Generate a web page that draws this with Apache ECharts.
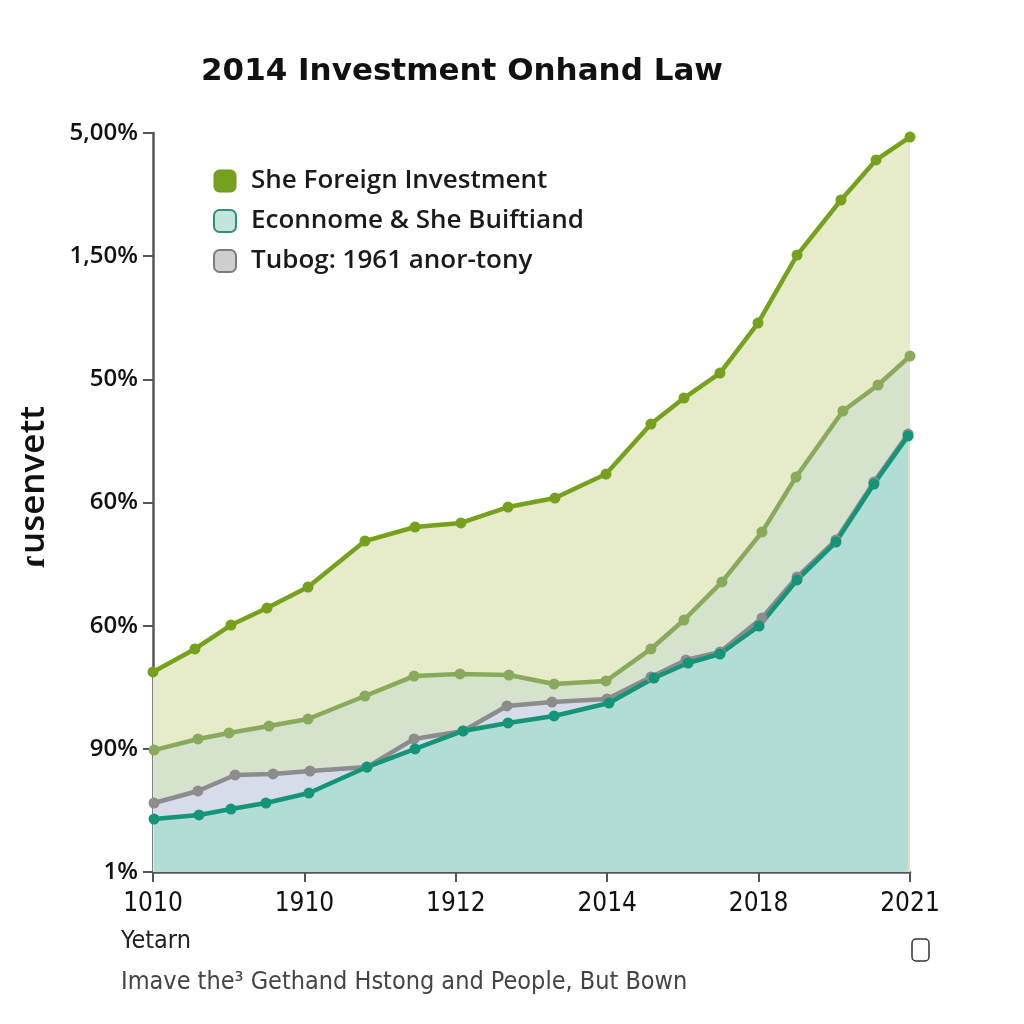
<!DOCTYPE html>
<html><head><meta charset="utf-8">
<script src="https://cdn.jsdelivr.net/npm/echarts@6/dist/echarts.min.js"></script>
<style>html,body{margin:0;padding:0;background:#fff}#c{width:1024px;height:1024px}</style>
</head><body><div id="c"></div>
<script>
// x in axis units (0..5 map to tick labels), y in axis units (0..6 map to tick labels)
const xTickLabels = ['1010','1910','1912','2014','2018','2021'];
const yTickLabels = ['1%','90%','60%','60%','50%','1,50%','5,00%'];

const foreignX = [0,0.277,0.515,0.753,1.024,1.400,1.731,2.034,2.345,2.655,2.992,3.289,3.507,3.745,3.996,4.254,4.544,4.776,5.0];
const foreignY = [1.624,1.811,2.005,2.143,2.314,2.687,2.801,2.834,2.963,3.036,3.231,3.637,3.848,4.051,4.457,5.009,5.456,5.781,5.967];

const oliveX = [0.007,0.297,0.502,0.766,1.024,1.400,1.724,2.028,2.351,2.649,2.992,3.289,3.507,3.758,4.022,4.247,4.557,4.789,5.0];
const oliveY = [0.990,1.080,1.129,1.185,1.242,1.429,1.591,1.608,1.599,1.526,1.551,1.811,2.046,2.355,2.760,3.207,3.743,3.954,4.189];

const greyX = [0.007,0.297,0.542,0.793,1.037,1.413,1.724,2.048,2.338,2.635,2.999,3.289,3.520,3.745,4.022,4.254,4.511,4.762,4.987];
const greyY = [0.560,0.658,0.788,0.796,0.820,0.852,1.080,1.145,1.348,1.380,1.405,1.583,1.721,1.786,2.062,2.395,2.695,3.166,3.556];

const tealX = [0.007,0.304,0.515,0.746,1.030,1.413,1.731,2.048,2.345,2.649,3.012,3.309,3.534,3.745,4.003,4.254,4.511,4.762,4.987];
const tealY = [0.430,0.463,0.511,0.560,0.641,0.852,0.999,1.145,1.210,1.267,1.372,1.575,1.697,1.770,1.997,2.371,2.679,3.150,3.540];

const names = ['She Foreign Investment','Econnome & She Buiftiand','Tubog: 1961 anor-tony','Middle band'];
const yAxisName = '\u027eusenvett';

function pairs(xs, ys){ return xs.map((x,i)=>[x, ys[i]]); }

function mk(name, xs, ys, line, fill){
  return {
    name, type:'line', data: pairs(xs, ys),
    symbol:'circle', symbolSize:11, showSymbol:true,
    lineStyle:{color:line, width:4.5},
    itemStyle:{color:line},
    areaStyle:{color:fill, opacity:1},
    emphasis:{disabled:true}
  };
}

const condensed = 'Liberation Sans Narrow, Arial Narrow, DejaVu Sans Condensed, Liberation Sans';

const chart = echarts.init(document.getElementById('c'));
chart.setOption({
  backgroundColor:'#ffffff',
  animation:false,
  title:[
    {text:'2014 Investment Onhand Law', left:201, top:56, padding:0,
     textStyle:{fontFamily:'DejaVu Sans', fontWeight:'bold', fontSize:31, color:'#111'}},
    {text:'Yetarn', left:121, top:929, padding:0,
     textStyle:{fontFamily:condensed, fontWeight:'normal', fontSize:25, color:'#222'}},
    {text:'Imave the\u00b3 Gethand Hstong and People, But Bown', left:121, top:970, padding:0,
     textStyle:{fontFamily:condensed, fontWeight:'normal', fontSize:25, color:'#444'}}
  ],
  legend:{
    orient:'vertical', left:208, top:163, itemWidth:22, itemHeight:22, itemGap:14,
    textStyle:{fontFamily:'Open Sans', fontWeight:600, fontSize:26, color:'#1a1a1a', padding:[0,0,0,10]},
    data:[
      {name:names[0], icon:'roundRect', itemStyle:{color:'#76a11c', borderColor:'#6d9420', borderWidth:1}},
      {name:names[1], icon:'roundRect', itemStyle:{color:'#c3e5de', borderColor:'#2f8f7a', borderWidth:2}},
      {name:names[2], icon:'roundRect', itemStyle:{color:'#cfcfcf', borderColor:'#7c7c7c', borderWidth:2}}
    ],
    selectedMode:false
  },
  grid:{left:153, right:114, top:133, bottom:152, containLabel:false},
  xAxis:{
    type:'value', min:0, max:5, interval:1,
    axisLine:{show:true, onZero:false, lineStyle:{color:'#555', width:2.5}},
    axisTick:{show:true, length:10, lineStyle:{color:'#555', width:2}},
    splitLine:{show:false},
    axisLabel:{margin:19, fontFamily:condensed, fontSize:26, color:'#111',
      formatter:v=>xTickLabels[Math.round(v)]}
  },
  yAxis:{
    type:'value', min:0, max:6, interval:1,
    axisLine:{show:true, lineStyle:{color:'#555', width:2.5}},
    axisTick:{show:true, length:10, lineStyle:{color:'#555', width:2}},
    splitLine:{show:false},
    axisLabel:{margin:15, fontFamily:'Open Sans', fontWeight:600, fontSize:24, color:'#111',
      formatter:v=>yTickLabels[Math.round(v)]}
  },
  series:[
    mk(names[0], foreignX, foreignY, '#76a11c', '#e6ecca'),
    mk(names[3], oliveX, oliveY, '#88aa5a', '#d5e2cc'),
    mk(names[2], greyX, greyY, '#8c8c8c', '#d6dce9'),
    mk(names[1], tealX, tealY, '#149479', '#b2ddd6')
  ],
  graphic:[
    {type:'text', x:34, y:487, rotation:Math.PI/2,
     style:{text:yAxisName, fontFamily:'Open Sans', fontWeight:600, fontSize:35, fill:'#111',
       align:'center', verticalAlign:'middle'}},
    {type:'rect', shape:{x:912, y:939, width:17, height:22, r:4},
     style:{fill:'none', stroke:'#333', lineWidth:1.5}}
  ]
});
</script></body></html>
